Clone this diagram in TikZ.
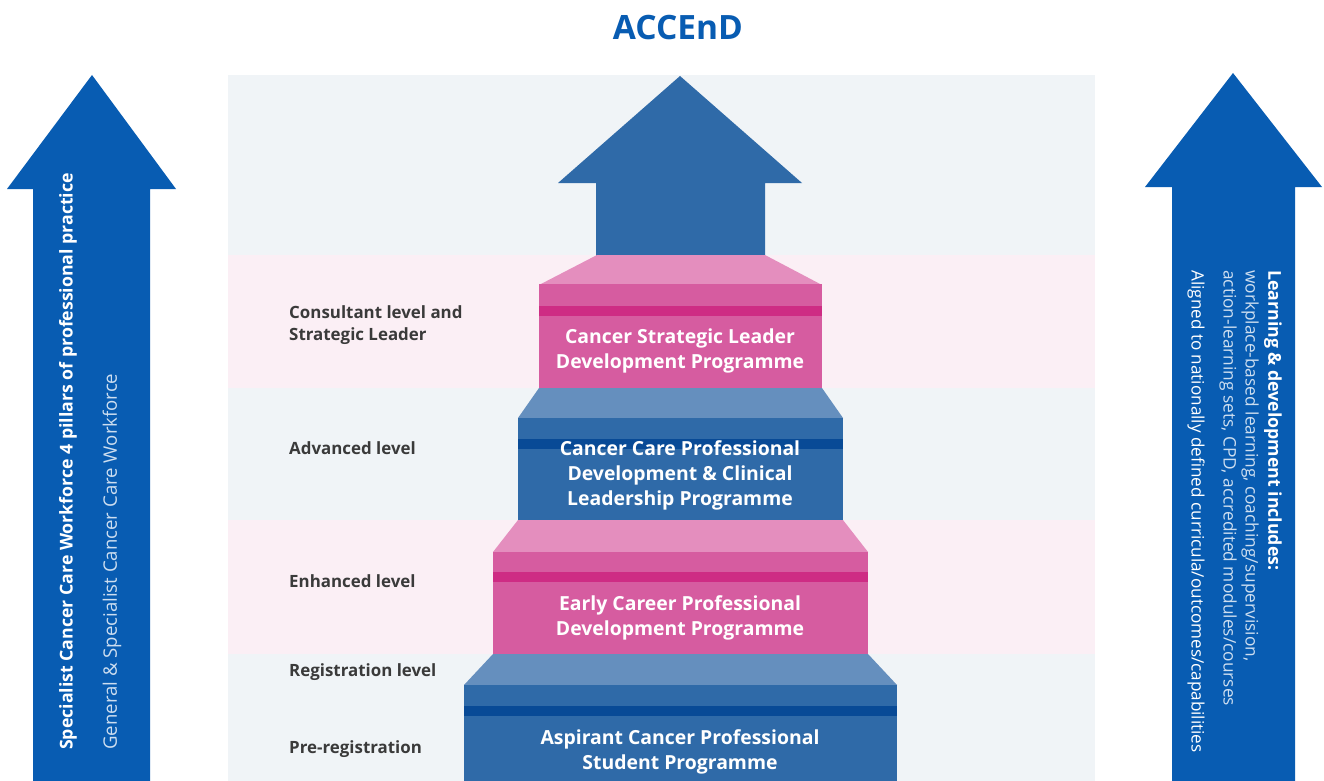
\documentclass[tikz,border=0pt]{standalone}
\usepackage{fontspec}
\setmainfont{Open Sans}
\definecolor{arrowblue}{RGB}{8,92,178}
\definecolor{centerblue}{RGB}{47,106,168}
\definecolor{bluetop}{RGB}{101,143,190}
\definecolor{bluestripe}{RGB}{8,74,150}
\definecolor{pinkfront}{RGB}{214,92,160}
\definecolor{pinktop}{RGB}{228,142,190}
\definecolor{pinkstripe}{RGB}{206,44,132}
\definecolor{panel}{RGB}{240,244,247}
\definecolor{pinkband}{RGB}{251,239,245}
\definecolor{labelgray}{RGB}{58,58,58}
\definecolor{lighttext}{RGB}{205,222,240}
\begin{document}
\begin{tikzpicture}[x=1pt,y=-1pt,
  lvl/.style={font=\bfseries\fontsize{16.9}{22}\selectfont, text=labelgray, anchor=west, align=left, inner sep=0},
  prog/.style={font=\bfseries\fontsize{19.4}{25}\selectfont, text=white, align=center, inner sep=0},
  sidebold/.style={font=\bfseries\fontsize{17.7}{20}\selectfont, text=white, inner sep=0},
  sidelight/.style={font=\fontsize{18.6}{20}\selectfont, text=lighttext, inner sep=0},
  rightlight/.style={font=\fontsize{17.3}{20}\selectfont, text=lighttext, inner sep=0},
  sideplain/.style={font=\fontsize{17.1}{20}\selectfont, text=white, inner sep=0}]
\useasboundingbox (0,0) rectangle (1324,781);
\fill[white] (0,0) rectangle (1324,781);
% panel and bands
\fill[panel] (228,75) rectangle (1095,781);
\fill[pinkband] (228,255) rectangle (1095,388);
\fill[pinkband] (228,520) rectangle (1095,654);
% title
\node[font=\bfseries\fontsize{33.5}{36}\selectfont, text=arrowblue, inner sep=0] (title) at (678,28) {ACCEnD};
% centre arrow
\fill[centerblue] (596,256) -- (596,183) -- (558,183) -- (680,76) -- (802,183) -- (765,183) -- (765,256) -- cycle;
% step 1 (pink)
\fill[pinktop] (597,255) -- (765,255) -- (822,285) -- (539,285) -- cycle;
\fill[pinkfront] (539,284) rectangle (822,388);
\fill[pinkstripe] (539,306) rectangle (822,316);
% step 2 (blue)
\fill[bluetop] (539,388) -- (822,388) -- (843,418) -- (518,418) -- cycle;
\fill[centerblue] (518,418) rectangle (843,521);
\fill[bluestripe] (518,439) rectangle (843,449);
% step 3 (pink)
\fill[pinktop] (518,520) -- (843,520) -- (868,552) -- (493,552) -- cycle;
\fill[pinkfront] (493,552) rectangle (868,654);
\fill[pinkstripe] (493,572) rectangle (868,582);
% step 4 (blue)
\fill[bluetop] (493,654) -- (868,654) -- (897,685) -- (464,685) -- cycle;
\fill[centerblue] (464,685) rectangle (897,781);
\fill[bluestripe] (464,706) rectangle (897,716);
% programme texts
\node[prog] (p1) at (680,351) {Cancer Strategic Leader\\Development Programme};
\node[prog] (p2) at (680,475) {Cancer Care Professional\\Development \& Clinical\\Leadership Programme};
\node[prog] (p3) at (680,618) {Early Career Professional\\Development Programme};
\node[prog] (p4) at (680,752) {Aspirant Cancer Professional\\Student Programme};
% level labels
\node[lvl] (l1) at (289,325) {Consultant level and\\Strategic Leader};
\node[lvl] (l2) at (289,448) {Advanced level};
\node[lvl] (l3) at (289,581) {Enhanced level};
\node[lvl] (l4) at (289,672) {Registration level};
\node[lvl] (l5) at (289,749) {Pre-registration};
% left arrow
\fill[arrowblue] (33,781) -- (33,189) -- (7,189) -- (92,75) -- (176,189) -- (150,189) -- (150,781) -- cycle;
\node[sidebold, rotate=90, anchor=west] (la) at (68,750) {Specialist Cancer Care Workforce 4 pillars of professional practice};
\node[sidelight, rotate=90, anchor=west] (lb) at (112,750) {General \& Specialist Cancer Care Workforce};
% right arrow
\fill[arrowblue] (1172,781) -- (1172,187) -- (1145,187) -- (1233,73) -- (1322,187) -- (1295,187) -- (1295,781) -- cycle;
\node[sidebold, rotate=-90, anchor=west] (ra) at (1273,270) {Learning \& development includes:};
\node[rightlight, rotate=-90, anchor=west] (rb) at (1250,270) {workplace-based learning, coaching/supervision,};
\node[rightlight, rotate=-90, anchor=west] (rc) at (1228,270) {action-learning sets, CPD, accredited modules/courses};
\node[sideplain, rotate=-90, anchor=west] (rd) at (1196,270) {Aligned to nationally defined curricula/outcomes/capabilities};
\end{tikzpicture}
\end{document}
